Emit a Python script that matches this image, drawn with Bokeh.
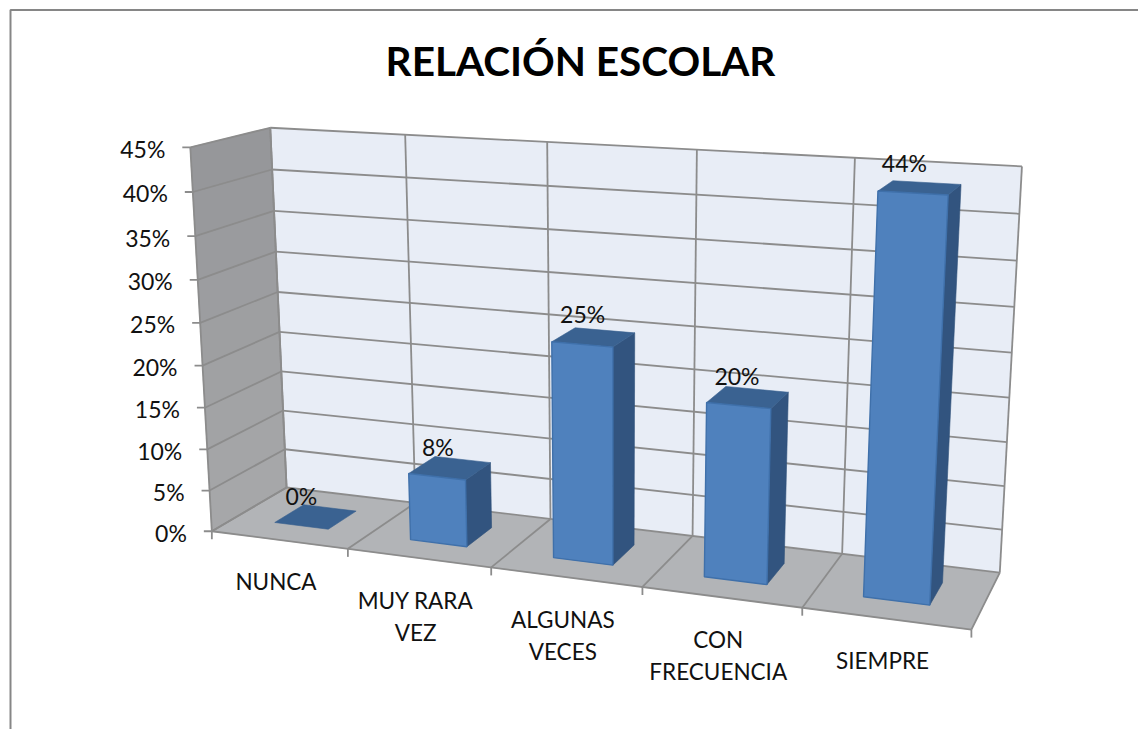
import numpy as np
from bokeh.plotting import figure
from bokeh.models import ColumnDataSource, Range1d
from bokeh.core.properties import value
from bokeh.embed import file_html
from bokeh.resources import INLINE

# ---- data ----
categories = [["NUNCA"], ["MUY RARA", "VEZ"], ["ALGUNAS", "VECES"], ["CON", "FRECUENCIA"], ["SIEMPRE"]]
values = [0, 8, 25, 19.8, 43.6]
value_labels = ["0%", "8%", "25%", "20%", "44%"]
ticks = [0, 5, 10, 15, 20, 25, 30, 35, 40, 45]
tick_labels = ["0%", "5%", "10%", "15%", "20%", "25%", "30%", "35%", "40%", "45%"]
title = "RELACIÓN ESCOLAR"

# ---- perspective camera, calibrated on the plot box corners: (cat, val, depth) -> page pixel ----
calib = [
    ((0, 0, 0), (212, 531)), ((1, 0, 0), (347, 548)), ((2, 0, 0), (490, 567)), ((3, 0, 0), (642, 587)),
    ((4, 0, 0), (802, 607)), ((5, 0, 0), (971, 629)),
    ((0, 45, 0), (190, 147)), ((0, 25, 0), (199.5, 322)),
    ((0, 0, 1), (286, 488)), ((0, 45, 1), (270, 127)), ((0, 25, 1), (277.5, 291)),
    ((5, 0, 1), (999, 572)), ((5, 45, 1), (1022, 166)),
    ((1, 45, 1), (404, 134)), ((4, 45, 1), (854, 158)), ((4, 0, 1), (842, 553)), ((3, 0, 1), (692, 535)),
]
A = []
for (X, Y, Z), (u, v) in calib:
    A.append([X, Y, Z, 1, 0, 0, 0, 0, -u * X, -u * Y, -u * Z, -u])
    A.append([0, 0, 0, 0, X, Y, Z, 1, -v * X, -v * Y, -v * Z, -v])
M = np.linalg.svd(np.array(A, float))[2][-1].reshape(3, 4)


def proj(X, Y, Z):
    h = M @ np.array([X, Y, Z, 1.0])
    return h[0] / h[2], h[1] / h[2]


def poly(pts):
    q = [proj(*t) for t in pts]
    return [a for a, _ in q], [b for _, b in q]


N = len(categories)
TOP = ticks[-1]
BAR_L, BAR_R = 0.3, 0.7
Z0, Z1 = 0.3, 0.7
GRID = "#8C8C8C"
FONT = value("Lato")

p = figure(width=1138, height=729, output_backend="svg", toolbar_location=None,
           x_range=Range1d(0, 1138), y_range=Range1d(729, 0), min_border=0,
           x_axis_type=None, y_axis_type=None, outline_line_color=None)
p.grid.visible = False
p.background_fill_color = "#FFFFFF"


def fill(pts_list, colors, lw=0, line=None):
    xs, ys = [], []
    for pts in pts_list:
        a, b = poly(pts)
        xs.append(a)
        ys.append(b)
    src = ColumnDataSource(dict(xs=xs, ys=ys, c=colors, l=line if line else colors))
    p.patches("xs", "ys", source=src, fill_color="c", line_color="l", line_width=lw if lw else 0.6)


def lines(segs, color=GRID, w=1.8):
    xs, ys = [], []
    for a, b in segs:
        q = poly([a, b])
        xs.append(q[0])
        ys.append(q[1])
    p.multi_line(xs, ys, line_color=color, line_width=w)


# chart area border: left and top edges only, the others fall outside the crop
p.multi_line([[10, 10, 1138]], [[729, 9.5, 9.5]], line_color="#868686", line_width=2)

# floor and back wall
fill([[(0, 0, 0), (N, 0, 0), (N, 0, 1), (0, 0, 1)]], ["#B2B4B7"])
fill([[(0, 0, 1), (N, 0, 1), (N, TOP, 1), (0, TOP, 1)]], ["#E8EDF6"])

# side wall, shaded in bands from the floor up
shades = ["#A6A7A9", "#A4A5A7", "#A2A3A5", "#A0A1A3", "#9E9FA1", "#9C9DA0", "#9A9B9E", "#98999C", "#96979A"]
fill([[(0, ticks[k], 0), (0, ticks[k + 1], 0), (0, ticks[k + 1], 1), (0, ticks[k], 1)]
      for k in range(len(ticks) - 1)], shades)

# gridlines
lines([((0, t, 1), (N, t, 1)) for t in ticks])
lines([((i, 0, 1), (i, TOP, 1)) for i in range(N + 1)])
lines([((0, t, 0), (0, t, 1)) for t in ticks])
lines([((0, 0, 0), (0, TOP, 0)), ((0, 0, 1), (0, TOP, 1))])
lines([((i, 0, 0), (i, 0, 1)) for i in range(N + 1)])
lines([((0, 0, 0), (N, 0, 0))])

# tick marks
tick_x, tick_y = [], []
for t in ticks:
    x, y = proj(0, t, 0)
    tick_x.append([x - 8, x])
    tick_y.append([y, y])
p.multi_line(tick_x, tick_y, line_color=GRID, line_width=1.8)
cat_x, cat_y = [], []
for i in range(N + 1):
    x, y = proj(i, 0, 0)
    cat_x.append([x, x])
    cat_y.append([y, y + 8])
p.multi_line(cat_x, cat_y, line_color=GRID, line_width=1.8)

# bars
for i, v in enumerate(values):
    l, r = i + BAR_L, i + BAR_R
    if v > 0:
        fill([[(r, 0, Z0), (r, 0, Z1), (r, v, Z1), (r, v, Z0)]], ["#32547F"], line=["#2F5079"])
    fill([[(l, v, Z0), (r, v, Z0), (r, v, Z1), (l, v, Z1)]], ["#3A6291"], line=["#38608E"])
    if v > 0:
        fill([[(l, 0, Z0), (r, 0, Z0), (r, v, Z0), (l, v, Z0)]], ["#4F81BD"], lw=1.4, line=["#3F70AA"])

# value labels, above the top of each bar and centred on the middle of its front face
lx, ly = [], []
for i, v in enumerate(values):
    lx.append(proj(i + 0.5, v / 2, Z0)[0])
    ly.append(proj(i + 0.5, v, Z0)[1] - 30)
p.text(lx, ly, text=value_labels, text_font=FONT, text_font_size="23px", text_color="#111111",
       text_align="center", text_baseline="middle")

# value axis labels
ax, ay = [], []
for t in ticks:
    x, y = proj(0, t, 0)
    ax.append(x - 25)
    ay.append(y + 1.5)
p.text(ax, ay, text=tick_labels, text_font=FONT, text_font_size="23px", text_color="#111111",
       text_align="right", text_baseline="middle")

# category labels
cx, cy, ct = [], [], []
for i, rows in enumerate(categories):
    x, y = proj(i + 0.5, 0, 0)
    for k, row in enumerate(rows):
        cx.append(x - 3)
        cy.append(y + 42 + k * 32.5)
        ct.append(row)
p.text(cx, cy, text=ct, text_font=FONT, text_font_size="22.5px", text_color="#111111",
       text_align="center", text_baseline="middle")

# chart title
p.text([580], [60], text=[title], text_font=FONT, text_font_size="40.5px", text_font_style="bold",
       text_color="#000000", text_align="center", text_baseline="middle")

open("out.html", "w").write(file_html(p, INLINE))
